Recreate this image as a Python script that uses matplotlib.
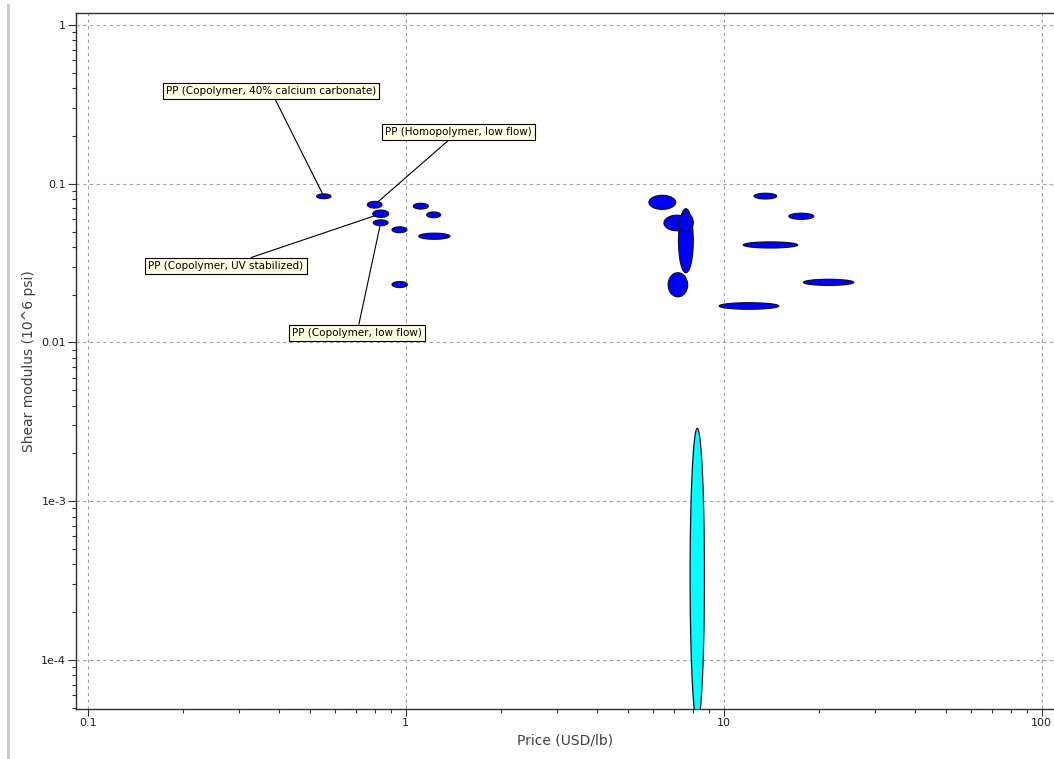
import numpy as np
import matplotlib
matplotlib.use("Agg")
import matplotlib.pyplot as plt
from matplotlib.lines import Line2D

# price ranges (USD/lb) and shear modulus ranges (10^6 psi) for each record
x_low = [0.525, 0.758, 0.788, 0.791, 0.906, 1.057, 1.164, 1.099, 0.906,
         5.82, 6.49, 7.21, 7.21, 6.69, 12.46, 16.03, 11.52, 17.82, 9.68, 7.84]
x_high = [0.582, 0.842, 0.884, 0.880, 1.009, 1.178, 1.288, 1.377, 1.012,
          7.06, 7.83, 8.02, 8.02, 7.70, 14.67, 19.19, 17.08, 25.64, 14.89, 8.70]
y_low = [0.0805, 0.0703, 0.0614, 0.0545, 0.0492, 0.0693, 0.0611, 0.0447, 0.0222,
         0.069, 0.0506, 0.0275, 0.0499, 0.0194, 0.0802, 0.0597, 0.0394, 0.0229, 0.0162, 4.0e-5]
y_high = [0.0863, 0.0774, 0.0682, 0.0592, 0.0535, 0.0753, 0.0664, 0.0488, 0.0242,
          0.0845, 0.0633, 0.0696, 0.0651, 0.0275, 0.0871, 0.0652, 0.043, 0.025, 0.0178, 2.88e-3]
colors = ['#0000ff'] * 19 + ['#00ffff']

# labelled records: index into the arrays above, label text, box centre (figure px from top-left)
label_idx = [0, 1, 2, 3]
label_text = ['PP (Copolymer, 40% calcium carbonate)',
              'PP (Homopolymer, low flow)',
              'PP (Copolymer, UV stabilized)',
              'PP (Copolymer, low flow)']
label_pos = [(271, 91), (458, 132), (226, 266), (357, 333)]

x_ticks = [0.1, 1, 10, 100]
x_ticklabels = ['0.1', '1', '10', '100']
y_ticks = [1e-4, 1e-3, 0.01, 0.1, 1]
y_ticklabels = ['1e-4', '1e-3', '0.01', '0.1', '1']

W, H = 1054, 759
fig = plt.figure(figsize=(W / 100, H / 100), dpi=100)
ax = fig.add_axes([76 / W, (H - 709.3) / H, (W - 76) / W, (709.3 - 13.3) / H])

ax.set_xscale('log')
ax.set_yscale('log')
ax.set_xlim(0.0919, 109.3)
ax.set_ylim(4.89e-5, 1.185)

t = np.linspace(0, 2 * np.pi, 200)
for xl, xh, yl, yh, c in zip(x_low, x_high, y_low, y_high, colors):
    cx = (np.log10(xl) + np.log10(xh)) / 2
    cy = (np.log10(yl) + np.log10(yh)) / 2
    a = (np.log10(xh) - np.log10(xl)) / 2
    b = (np.log10(yh) - np.log10(yl)) / 2
    ax.fill(10 ** (cx + a * np.cos(t)), 10 ** (cy + b * np.sin(t)),
            facecolor=c, edgecolor='#101030', linewidth=0.9, zorder=5)

for i, txt, (px, py) in zip(label_idx, label_text, label_pos):
    cx = 10 ** ((np.log10(x_low[i]) + np.log10(x_high[i])) / 2)
    cy = 10 ** ((np.log10(y_low[i]) + np.log10(y_high[i])) / 2)
    ax.annotate(txt, xy=(cx, cy), xycoords='data',
                xytext=(px, H - py), textcoords='figure pixels',
                ha='center', va='center', fontsize=7.5, family='DejaVu Sans',
                bbox=dict(boxstyle='square,pad=0.3', facecolor='#ffffe1',
                          edgecolor='black', linewidth=0.8),
                arrowprops=dict(arrowstyle='-', color='black', lw=0.8,
                                shrinkA=0, shrinkB=0),
                zorder=4)

ax.set_xticks(x_ticks)
ax.set_xticklabels(x_ticklabels)
ax.set_yticks(y_ticks)
ax.set_yticklabels(y_ticklabels)
ax.tick_params(which='major', direction='out', length=6, width=0.8,
               color='#303030', labelsize=8, labelcolor='#202020', pad=1)
ax.tick_params(which='minor', direction='out', length=3, width=0.8, color='#303030')
ax.tick_params(axis='x', which='major', length=5)

ax.grid(True, which='major', color='#a0a0a0', linestyle=(0, (3, 3)), linewidth=0.8)
ax.set_axisbelow(True)

ax.spines['right'].set_visible(False)
for s in ['left', 'bottom', 'top']:
    ax.spines[s].set_color('#303030')
    ax.spines[s].set_linewidth(1.0)

ax.set_xlabel('Price (USD/lb)', fontsize=10, color='#404040', labelpad=4)
ax.set_ylabel('Shear modulus (10^6 psi)', fontsize=10, color='#404040', labelpad=4)

fig.add_artist(Line2D([8 / W, 8 / W], [0, (H - 5) / H], color='#c8c8c8',
                      linewidth=2, transform=fig.transFigure))

fig.savefig('out.png', dpi=100)
